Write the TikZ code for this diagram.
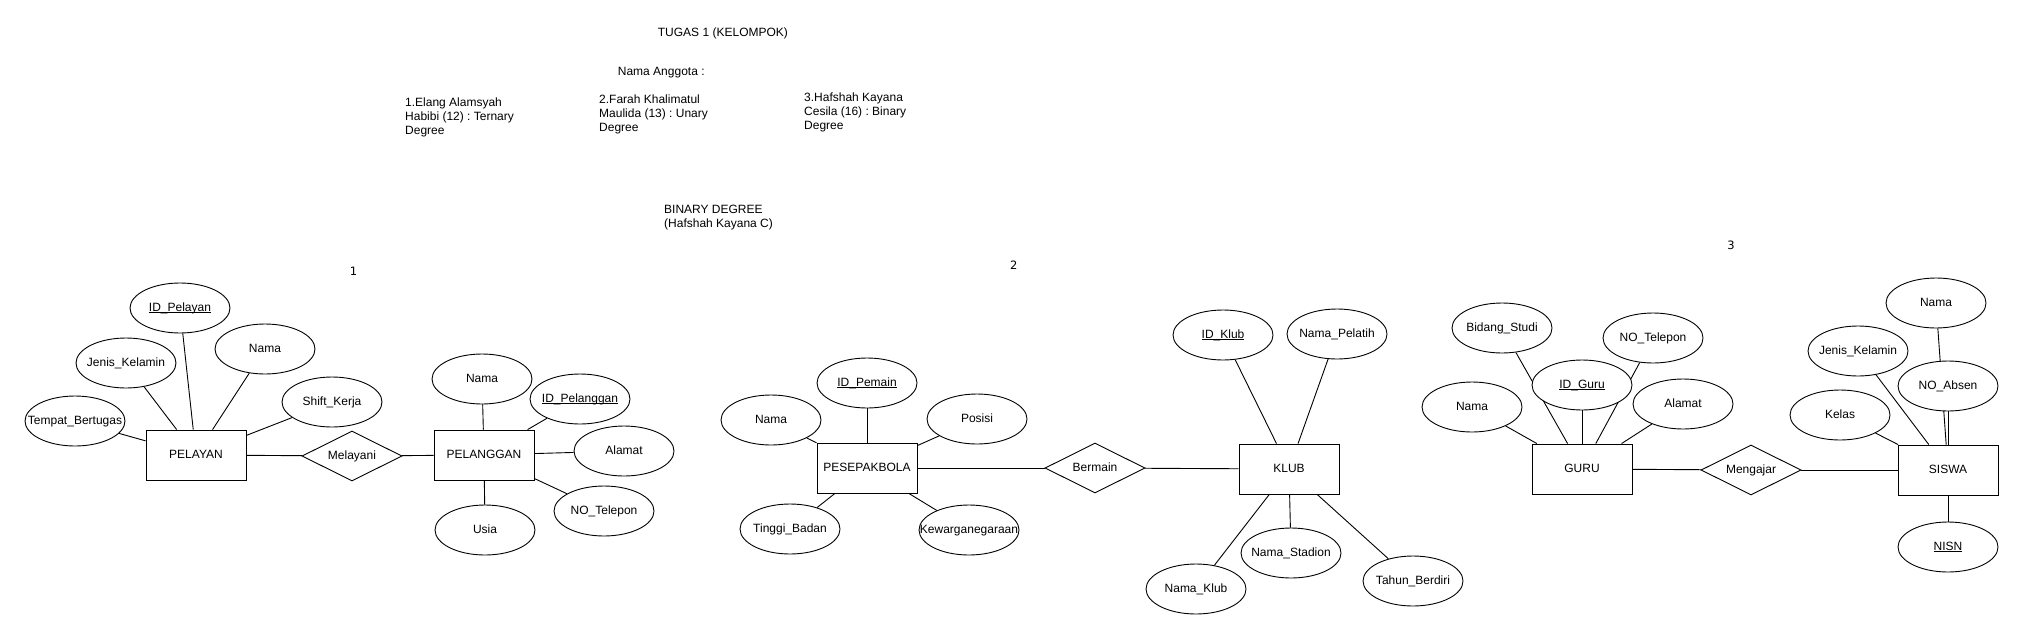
\documentclass[tikz,border=0pt]{standalone}
\usepackage{fontspec}
\setmainfont{Liberation Sans}
\newfontfamily\digitfont{DejaVu Sans}
\usetikzlibrary{shapes.geometric,backgrounds}
\newcommand\lbl[1]{\makebox[0pt]{#1}}
\newcommand\keyu[1]{\setbox0=\hbox{#1}\makebox[0pt]{\rlap{\rule[-1.8pt]{\wd0}{0.8pt}}\box0}}
\frenchspacing
\begin{document}
\begin{tikzpicture}[x=1pt,y=-1pt,
  every node/.style={font=\fontsize{12}{14}\selectfont},
  attr/.style={ellipse,draw,line width=0.9pt,fill=white,minimum width=100pt,minimum height=50pt,inner sep=0pt,text height=9pt,text depth=3pt},
  ent/.style={rectangle,draw,line width=0.9pt,fill=white,minimum width=100pt,minimum height=50pt,inner sep=0pt,text height=9pt,text depth=3pt},
  rel/.style={diamond,draw,line width=0.9pt,fill=white,minimum width=100pt,minimum height=50pt,inner sep=0pt,text height=9pt,text depth=3pt},
  conn/.style={draw,line width=0.9pt},
  info/.style={anchor=west,align=left,inner sep=0pt},
  num/.style={inner sep=0pt,font=\digitfont\fontsize{11.5}{14}\selectfont}]
\useasboundingbox (0,0) rectangle (2025,640);

% header texts
\node[info] (title) at (657.7,33.3) {TUGAS 1 (KELOMPOK)};
\node[info] (anggota) at (617.7,72.5) {Nama Anggota :};
\node[info] (m1) at (405,117.5) {1.Elang Alamsyah\\Habibi (12) : Ternary\\Degree};
\node[info] (m2) at (599,114.2) {2.Farah Khalimatul\\Maulida (13) : Unary\\Degree};
\node[info] (m3) at (804,111.9) {3.Hafshah Kayana\\Cesila (16) : Binary\\Degree};
\node[info] (bin) at (664,217.7) {BINARY DEGREE\\(Hafshah Kayana C)};
\node[num] (n1) at (353.5,271) {1};
\node[num] (n2) at (1013.7,265) {2};
\node[num] (n3) at (1731,245.7) {3};

% group 1
\node[attr] (a1) at (180,308) {\keyu{ID\_Pelayan}};
\node[attr] (a2) at (126,363) {\lbl{Jenis\_Kelamin}};
\node[attr] (a3) at (265,349) {\lbl{Nama}};
\node[attr] (a4) at (332,402) {\lbl{Shift\_Kerja}};
\node[attr] (a5) at (75,421) {\lbl{Tempat\_Bertugas}};
\node[ent] (e1) at (196,455) {PELAYAN};
\node[rel] (r1) at (352,456) {\lbl{Melayani}};
\node[ent] (e2) at (484,455) {PELANGGAN};
\node[attr] (b1) at (482,379) {\lbl{Nama}};
\node[attr] (b2) at (580,399) {\keyu{ID\_Pelanggan}};
\node[attr] (b3) at (624,451) {\lbl{Alamat}};
\node[attr] (b4) at (604,511) {\lbl{NO\_Telepon}};
\node[attr] (b5) at (485,530) {\lbl{Usia}};

% group 2
\node[attr] (c1) at (867,383) {\keyu{ID\_Pemain}};
\node[attr] (c2) at (771,420) {\lbl{Nama}};
\node[attr] (c3) at (977,419) {\lbl{Posisi}};
\node[ent] (e3) at (867,468) {PESEPAKBOLA};
\node[rel] (r2) at (1095,468) {\lbl{Bermain}};
\node[ent] (e4) at (1289,469) {KLUB};
\node[attr] (c4) at (790,529) {\lbl{Tinggi\_Badan}};
\node[attr] (c5) at (969,530) {\lbl{Kewarganegaraan}};
\node[attr] (d1) at (1223,335) {\keyu{ID\_Klub}};
\node[attr] (d2) at (1337,334) {\lbl{Nama\_Pelatih}};
\node[attr] (d3) at (1196,589) {\lbl{Nama\_Klub}};
\node[attr] (d4) at (1291,553) {\lbl{Nama\_Stadion}};
\node[attr] (d5) at (1413,581) {\lbl{Tahun\_Berdiri}};

% group 3
\node[attr] (f1) at (1502,328) {\lbl{Bidang\_Studi}};
\node[attr] (f2) at (1653,338) {\lbl{NO\_Telepon}};
\node[attr] (f3) at (1582,385) {\keyu{ID\_Guru}};
\node[attr] (f4) at (1472,407) {\lbl{Nama}};
\node[attr] (f5) at (1683,404) {\lbl{Alamat}};
\node[ent] (e5) at (1582,469) {GURU};
\node[rel] (r3) at (1751,470) {\lbl{Mengajar}};
\node[ent] (e6) at (1948,470) {SISWA};
\node[attr] (g1) at (1936,303) {\lbl{Nama}};
\node[attr] (g2) at (1858,351) {\lbl{Jenis\_Kelamin}};
\node[attr] (g3) at (1948,386) {\lbl{NO\_Absen}};
\node[attr] (g4) at (1840,415) {\lbl{Kelas}};
\node[attr] (g5) at (1948,547) {\keyu{NISN}};

\begin{pgfonlayer}{background}
\fill[white] (0,0) rectangle (2025,640);
% group 1
\draw[conn] (a1) -- (e1);
\draw[conn] (a2) -- (e1);
\draw[conn] (a3) -- (e1);
\draw[conn] (a4) -- (e1);
\draw[conn] (a5) -- (e1);
\draw[conn] (e1) -- (r1);
\draw[conn] (r1) -- (e2);
\draw[conn] (b1) -- (e2);
\draw[conn] (b2) -- (e2);
\draw[conn] (b3) -- (e2);
\draw[conn] (b4) -- (e2);
\draw[conn] (b5) -- (e2);
% group 2
\draw[conn] (c1) -- (e3);
\draw[conn] (c2) -- (e3);
\draw[conn] (c3) -- (e3);
\draw[conn] (c4) -- (e3);
\draw[conn] (c5) -- (e3);
\draw[conn] (e3) -- (r2);
\draw[conn] (r2) -- (e4);
\draw[conn] (d1) -- (e4);
\draw[conn] (d2) -- (e4);
\draw[conn] (d3) -- (e4);
\draw[conn] (d4) -- (e4);
\draw[conn] (d5) -- (e4);
% group 3
\draw[conn] (f1) -- (e5);
\draw[conn] (f2) -- (e5);
\draw[conn] (f3) -- (e5);
\draw[conn] (f4) -- (e5);
\draw[conn] (f5) -- (e5);
\draw[conn] (e5) -- (r3);
\draw[conn] (r3) -- (e6);
\draw[conn] (g1) -- (e6);
\draw[conn] (g2) -- (e6);
\draw[conn] (g3) -- (e6);
\draw[conn] (g4) -- (e6);
\draw[conn] (g5) -- (e6);
\end{pgfonlayer}
\end{tikzpicture}
\end{document}
